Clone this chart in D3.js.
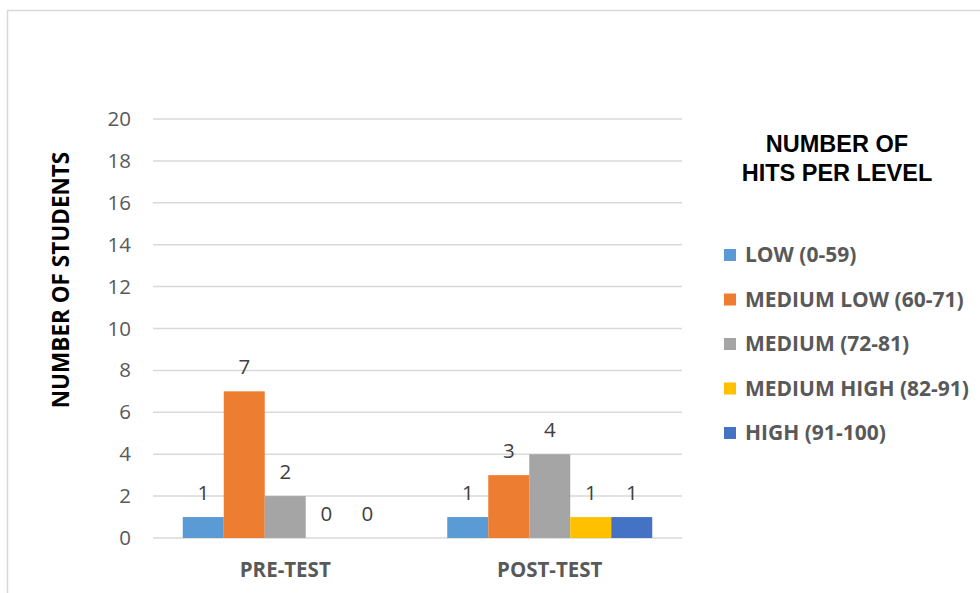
<!DOCTYPE html>
<html>
<head>
<meta charset="utf-8">
<script src="https://cdn.jsdelivr.net/npm/d3@7"></script>
<style>
  html, body { margin: 0; padding: 0; background: #fff; }
  svg { display: block; }
</style>
</head>
<body>
<svg id="chart" width="980" height="593"></svg>
<script>
// Test rounds on the x axis
const categories = ["PRE-TEST", "POST-TEST"];
// Performance levels (one series each)
const levels = ["LOW (0-59)", "MEDIUM LOW (60-71)", "MEDIUM (72-81)", "MEDIUM HIGH (82-91)", "HIGH (91-100)"];
const levelColors = ["#5B9BD5", "#ED7D31", "#A5A5A5", "#FFC000", "#4472C4"];
// Students per level, in the order of `categories`
const lowValues = [1, 1];
const mediumLowValues = [7, 3];
const mediumValues = [2, 4];
const mediumHighValues = [0, 1];
const highValues = [0, 1];
const yTicks = [0, 2, 4, 6, 8, 10, 12, 14, 16, 18, 20];

const seriesValues = [lowValues, mediumLowValues, mediumValues, mediumHighValues, highValues];

const svg = d3.select("#chart");
const W = 980, H = 593;
const bodyFont = "'Open Sans', 'Liberation Sans', sans-serif";

// chart frame
svg.append("path")
  .attr("d", `M7.5,${H} V10.5 H${W}`)
  .attr("fill", "none")
  .attr("stroke", "#d9d9d9")
  .attr("stroke-width", 1.5);

const plot = { left: 153, right: 682, top: 119, bottom: 538 };

const x0 = d3.scaleBand().domain(categories).range([plot.left, plot.right]).paddingInner(0).paddingOuter(0);
const groupWidth = 205;
const x1 = d3.scaleBand().domain(levels).range([0, groupWidth]).padding(0);
const y = d3.scaleLinear().domain([0, 20]).range([plot.bottom, plot.top]);

// gridlines
svg.append("g")
  .selectAll("line")
  .data(yTicks)
  .join("line")
  .attr("x1", plot.left).attr("x2", plot.right)
  .attr("y1", d => y(d)).attr("y2", d => y(d))
  .attr("stroke", "#d9d9d9")
  .attr("stroke-width", 1.5);

// y axis labels
const yAxis = d3.axisLeft(y).tickValues(yTicks).tickSize(0).tickPadding(0);
const gy = svg.append("g").attr("transform", `translate(131,0)`).call(yAxis);
gy.select(".domain").remove();
gy.selectAll("text")
  .attr("font-family", bodyFont)
  .attr("font-size", 20.5)
  .attr("fill", "#595959");

// x axis labels
const xAxis = d3.axisBottom(x0).tickSize(0).tickPadding(0);
const gx = svg.append("g").attr("transform", `translate(0,577)`).call(xAxis);
gx.select(".domain").remove();
gx.selectAll("text")
  .attr("font-family", bodyFont)
  .attr("font-size", 20.5)
  .attr("font-weight", "bold")
  .attr("fill", "#595959")
  .attr("dy", 0);

// bars
const groups = svg.append("g")
  .selectAll("g")
  .data(categories)
  .join("g")
  .attr("transform", c => `translate(${x0(c) + (x0.bandwidth() - groupWidth) / 2},0)`);

groups.each(function(c, ci) {
  const g = d3.select(this);
  const rows = levels.map((l, li) => ({ level: l, value: seriesValues[li][ci], color: levelColors[li] }));
  g.selectAll("rect")
    .data(rows)
    .join("rect")
    .attr("x", d => x1(d.level))
    .attr("width", x1.bandwidth())
    .attr("y", d => y(d.value))
    .attr("height", d => y(0) - y(d.value))
    .attr("fill", d => d.color);
  g.selectAll("text.val")
    .data(rows)
    .join("text")
    .attr("class", "val")
    .attr("x", d => x1(d.level) + x1.bandwidth() / 2)
    .attr("y", d => y(d.value) - 17)
    .attr("text-anchor", "middle")
    .attr("font-family", bodyFont)
    .attr("font-size", 20.5)
    .attr("fill", "#404040")
    .text(d => d.value);
});

// y axis title
svg.append("text")
  .attr("transform", "translate(69,280) rotate(-90)")
  .attr("text-anchor", "middle")
  .attr("font-family", bodyFont)
  .attr("font-size", 22.5)
  .attr("font-weight", "bold")
  .attr("fill", "#000")
  .text("NUMBER OF STUDENTS");

// legend title
const lt = svg.append("text")
  .attr("text-anchor", "middle")
  .attr("font-family", "'Liberation Sans', Arial, sans-serif")
  .attr("font-size", 23.5)
  .attr("font-weight", "bold")
  .attr("fill", "#000");
lt.append("tspan").attr("x", 837).attr("y", 152).text("NUMBER OF");
lt.append("tspan").attr("x", 837).attr("y", 181).text("HITS PER LEVEL");

// legend entries
const legend = svg.append("g")
  .selectAll("g")
  .data(levels)
  .join("g")
  .attr("transform", (d, i) => `translate(724,${255 + i * 44.5})`);
legend.append("rect")
  .attr("x", 0).attr("y", -6)
  .attr("width", 12).attr("height", 12)
  .attr("fill", (d, i) => levelColors[i]);
legend.append("text")
  .attr("x", 21).attr("y", 0)
  .attr("dy", "0.35em")
  .attr("font-family", bodyFont)
  .attr("font-size", 21)
  .attr("font-weight", "bold")
  .attr("fill", "#595959")
  .text(d => d);
</script>
</body>
</html>
